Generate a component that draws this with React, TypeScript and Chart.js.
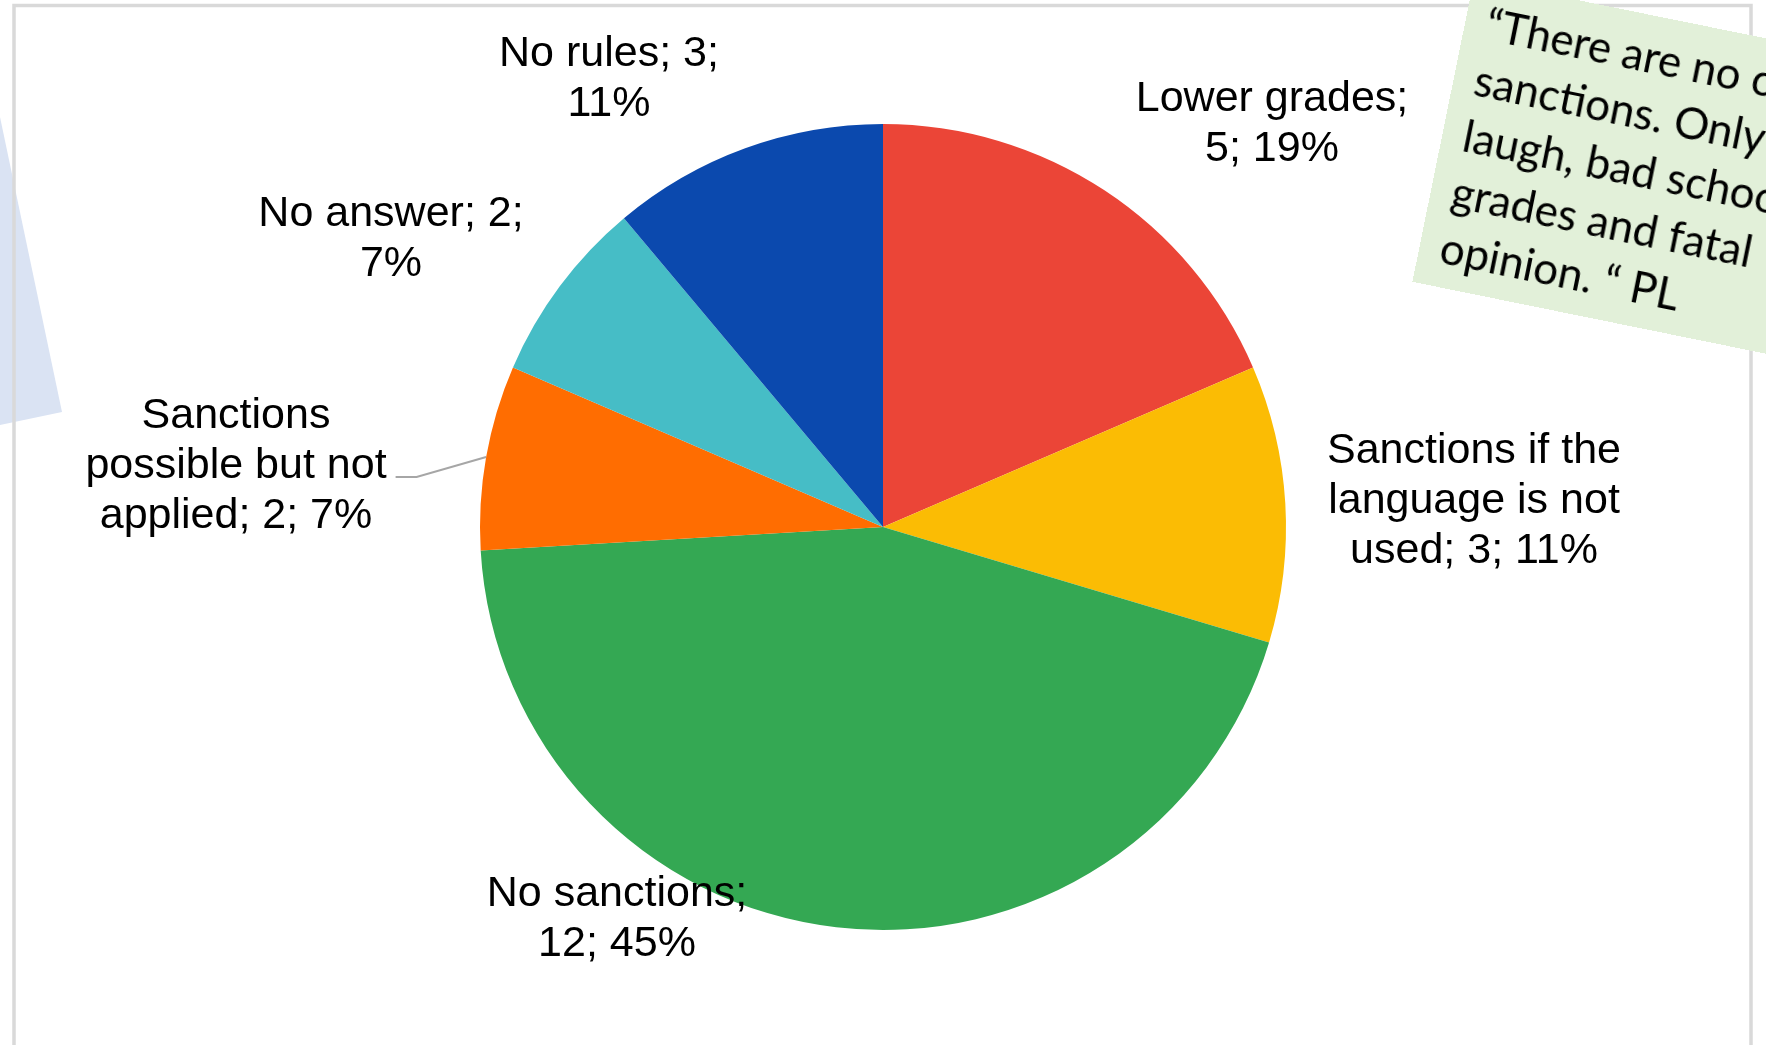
import React, { useEffect, useRef } from "react";
import { Chart, registerables } from "chart.js";

Chart.register(...registerables);

// ---- data ----
const categories = [
  "Lower grades",
  "Sanctions if the language is not used",
  "No sanctions",
  "Sanctions possible but not applied",
  "No answer",
  "No rules",
];
const counts = [5, 3, 12, 2, 2, 3];
const percentLabels = ["19%", "11%", "45%", "7%", "7%", "11%"];
const sliceColors = ["#EB4537", "#FBBC04", "#34A853", "#FF6D01", "#46BDC6", "#0B49AE"];

const noteLines = [
  "\u201CThere are no clear",
  "sanctions. Only",
  "laugh, bad school",
  "grades and fatal",
  "opinion. \u201C PL",
];

// ---- layout (not data) ----
const W = 1766;
const H = 1045;
const LABEL_FONT = 43;
const LABEL_LINE = 50;
// label wrap widths and anchor offsets (centre x, first baseline) relative to pie centre
const labelWrap = [290, 320, 300, 320, 300, 260];
const labelOffsets: [number, number][] = [
  [389, -416],
  [591, -64],
  [-266, 379],
  [-647, -99],
  [-492, -301],
  [-274, -461],
];
const leaderIndex = 3;

function wrapText(ctx: CanvasRenderingContext2D, text: string, maxW: number): string[] {
  const words = text.split(" ");
  const lines: string[] = [];
  let cur = "";
  for (const w of words) {
    const test = cur ? cur + " " + w : w;
    if (cur && ctx.measureText(test).width > maxW) {
      lines.push(cur);
      cur = w;
    } else {
      cur = test;
    }
  }
  if (cur) lines.push(cur);
  return lines;
}

const labelPlugin = {
  id: "sliceLabels",
  afterDatasetsDraw(chart: any) {
    const ctx: CanvasRenderingContext2D = chart.ctx;
    const meta = chart.getDatasetMeta(0);
    ctx.save();
    ctx.font = `${LABEL_FONT}px "Liberation Sans", Arial, sans-serif`;
    ctx.fillStyle = "#000000";
    ctx.textAlign = "center";
    ctx.textBaseline = "alphabetic";
    meta.data.forEach((arc: any, i: number) => {
      const p = arc.getProps(["x", "y", "startAngle", "endAngle", "outerRadius"], true);
      const text = `${categories[i]}; ${counts[i]}; ${percentLabels[i]}`;
      const lines = wrapText(ctx, text, labelWrap[i]);
      const [dx, dy] = labelOffsets[i];
      const cx = p.x + dx;
      lines.forEach((ln, j) => ctx.fillText(ln, cx, p.y + dy + j * LABEL_LINE));
      if (i === leaderIndex) {
        const mid = (p.startAngle + p.endAngle) / 2;
        const ex = p.x + Math.cos(mid) * p.outerRadius;
        const ey = p.y + Math.sin(mid) * p.outerRadius;
        const ln = lines[1] || lines[0];
        const sx = cx + ctx.measureText(ln).width / 2 + 9;
        const sy = p.y + dy + LABEL_LINE - 1;
        ctx.beginPath();
        ctx.strokeStyle = "#A6A6A6";
        ctx.lineWidth = 2;
        ctx.moveTo(sx, sy);
        ctx.lineTo(sx + 21, sy);
        ctx.lineTo(ex, ey);
        ctx.stroke();
      }
    });
    ctx.restore();
  },
};

export default function App() {
  const canvasRef = useRef<HTMLCanvasElement | null>(null);

  useEffect(() => {
    const canvas = canvasRef.current;
    if (!canvas) return;
    const chart = new Chart(canvas, {
      type: "pie",
      data: {
        labels: categories,
        datasets: [
          {
            data: counts,
            backgroundColor: sliceColors,
            borderWidth: 0,
          },
        ],
      },
      options: {
        animation: false,
        responsive: false,
        devicePixelRatio: 1,
        layout: { padding: { top: 124, bottom: 115, left: 0, right: 0 } },
        plugins: {
          legend: { display: false },
          tooltip: { enabled: false },
        },
        events: [],
      },
      plugins: [labelPlugin],
    } as any);
    return () => chart.destroy();
  }, []);

  return (
    <div
      style={{
        position: "fixed",
        left: 0,
        top: 0,
        width: W,
        height: H,
        overflow: "hidden",
        background: "#ffffff",
      }}
    >
      <svg width={W} height={H} style={{ position: "absolute", left: 0, top: 0 }}>
        <polygon points="0,117 62,412 0,425" fill="#DAE3F3" />
        <rect x={14} y={5.5} width={1737} height={1100} fill="none" stroke="#D9D9D9" strokeWidth={3.5} />
      </svg>
      <canvas
        ref={canvasRef}
        width={W}
        height={H}
        style={{ position: "absolute", left: 0, top: 0, width: W, height: H }}
      />
      <div
        style={{
          position: "absolute",
          left: 1474,
          top: -21,
          width: 560,
          height: 309,
          background: "#E2F0D9",
          transformOrigin: "0 0",
          transform: "rotate(11.5deg)",
          boxSizing: "border-box",
          paddingLeft: 21,
          paddingTop: 12,
          fontFamily: "Lato, 'Open Sans', sans-serif",
          fontSize: 44,
          lineHeight: "57px",
          color: "#000000",
          whiteSpace: "pre",
        }}
      >
        {noteLines.map((l, i) => (
          <div key={i}>{l}</div>
        ))}
      </div>
    </div>
  );
}
